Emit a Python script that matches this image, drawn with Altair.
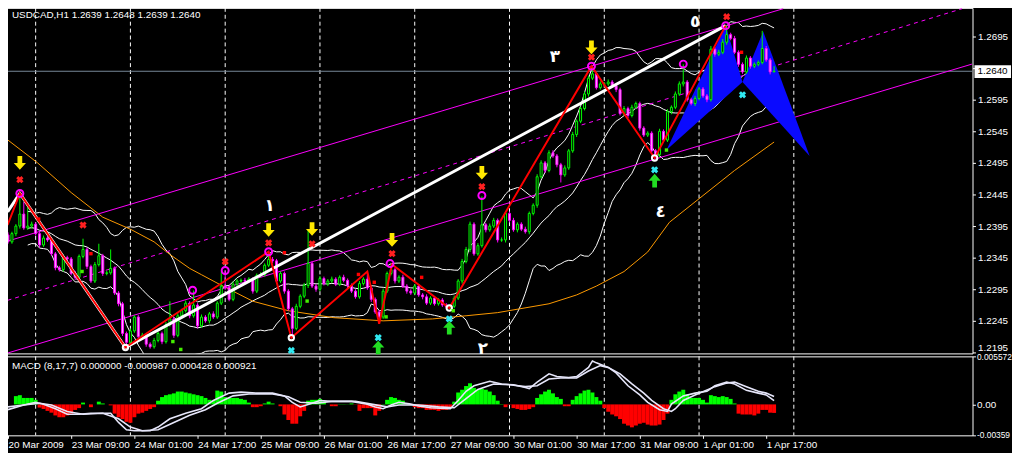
import altair as alt
import pandas as pd

FONT = "Liberation Sans"

# ---------------- data ----------------
# hourly closes, USDCAD H1, bar 0 = 20 Mar 2009 17:00
closes = [
    1.2370, 1.2383, 1.2395, 1.2414, 1.2392, 1.2395, 1.2398, 1.2383, 1.2365, 1.2376,
    1.2373, 1.2351, 1.2329, 1.2326, 1.2345, 1.2343, 1.2320, 1.2314, 1.2347, 1.2358,
    1.2331, 1.2308, 1.2334, 1.2348, 1.2320, 1.2321, 1.2328, 1.2289, 1.2272, 1.2225,
    1.2211, 1.2229, 1.2251, 1.2220, 1.2222, 1.2208, 1.2204, 1.2214, 1.2225, 1.2212,
    1.2239, 1.2248, 1.2222, 1.2253, 1.2261, 1.2273, 1.2253, 1.2270, 1.2237, 1.2251,
    1.2245, 1.2256, 1.2251, 1.2273, 1.2300, 1.2298, 1.2279, 1.2303, 1.2308, 1.2309,
    1.2308, 1.2311, 1.2292, 1.2317, 1.2318, 1.2333, 1.2342, 1.2340, 1.2308, 1.2320,
    1.2292, 1.2264, 1.2233, 1.2268, 1.2284, 1.2301, 1.2336, 1.2300, 1.2295, 1.2312,
    1.2304, 1.2308, 1.2311, 1.2303, 1.2314, 1.2309, 1.2301, 1.2292, 1.2283, 1.2304,
    1.2311, 1.2297, 1.2279, 1.2259, 1.2251, 1.2292, 1.2320, 1.2326, 1.2308, 1.2314,
    1.2300, 1.2292, 1.2289, 1.2300, 1.2286, 1.2283, 1.2273, 1.2281, 1.2272, 1.2278,
    1.2270, 1.2267, 1.2268, 1.2281, 1.2308, 1.2339, 1.2358, 1.2398, 1.2351, 1.2364,
    1.2397, 1.2389, 1.2395, 1.2404, 1.2373, 1.2373, 1.2415, 1.2404, 1.2389, 1.2398,
    1.2390, 1.2386, 1.2415, 1.2428, 1.2473, 1.2495, 1.2483, 1.2511, 1.2506, 1.2492,
    1.2476, 1.2487, 1.2514, 1.2540, 1.2561, 1.2581, 1.2604, 1.2629, 1.2636, 1.2614,
    1.2620, 1.2620, 1.2623, 1.2617, 1.2611, 1.2573, 1.2581, 1.2570, 1.2583, 1.2589,
    1.2550, 1.2539, 1.2542, 1.2514, 1.2508, 1.2545, 1.2531, 1.2576, 1.2583, 1.2604,
    1.2620, 1.2623, 1.2595, 1.2589, 1.2597, 1.2612, 1.2601, 1.2595, 1.2675, 1.2667,
    1.2670, 1.2686, 1.2698, 1.2692, 1.2670, 1.2651, 1.2639, 1.2661, 1.2648, 1.2651,
    1.2654, 1.2676, 1.2658, 1.2639, 1.2640,
]
first_open = 1.2381
# upper / lower shadow lengths in pips
wick_up = [
    4, 3, 3, 33, 19, 30, 4, 3, 3, 4,
    3, 4, 3, 3, 5, 3, 3, 4, 3, 17,
    3, 3, 4, 19, 3, 3, 30, 3, 3, 3,
    3, 4, 3, 3, 4, 3, 3, 4, 3, 3,
    4, 28, 3, 4, 3, 4, 3, 23, 3, 4,
    3, 3, 4, 3, 23, 25, 3, 4, 3, 3,
    4, 3, 3, 3, 4, 3, 12, 4, 3, 3,
    3, 3, 3, 4, 3, 4, 53, 3, 3, 4,
    3, 3, 4, 3, 3, 4, 3, 3, 3, 4,
    3, 12, 3, 3, 3, 4, 3, 8, 3, 3,
    4, 3, 3, 3, 3, 3, 4, 3, 3, 3,
    3, 3, 3, 4, 3, 4, 4, 4, 3, 4,
    45, 3, 4, 4, 3, 4, 3, 3, 4, 3,
    3, 4, 3, 3, 4, 4, 3, 4, 4, 3,
    3, 4, 3, 4, 3, 3, 4, 4, 12, 3,
    4, 3, 4, 3, 3, 3, 4, 3, 4, 3,
    3, 3, 3, 3, 3, 4, 3, 4, 3, 4,
    4, 28, 3, 3, 4, 3, 3, 3, 5, 4,
    4, 5, 14, 3, 4, 3, 3, 4, 3, 3,
    3, 28, 4, 3, 8,
]
wick_dn = [
    3, 3, 4, 4, 3, 3, 4, 3, 4, 3,
    3, 3, 4, 3, 3, 4, 3, 4, 3, 3,
    4, 3, 3, 3, 4, 3, 3, 3, 4, 4,
    8, 3, 3, 4, 3, 4, 3, 3, 3, 4,
    3, 3, 4, 3, 3, 3, 4, 3, 4, 3,
    3, 4, 3, 3, 3, 4, 3, 3, 4, 3,
    3, 3, 4, 3, 3, 3, 3, 4, 3, 3,
    4, 3, 15, 3, 3, 3, 4, 3, 4, 3,
    3, 4, 3, 3, 3, 3, 4, 3, 3, 3,
    3, 3, 4, 3, 11, 3, 3, 3, 4, 3,
    3, 4, 3, 3, 3, 4, 3, 3, 3, 3,
    3, 3, 4, 3, 3, 4, 3, 4, 3, 3,
    3, 4, 3, 3, 4, 3, 4, 3, 3, 4,
    3, 3, 4, 3, 4, 3, 4, 3, 3, 4,
    12, 3, 3, 3, 4, 3, 3, 4, 3, 3,
    3, 4, 3, 3, 4, 3, 3, 4, 3, 3,
    4, 3, 3, 3, 5, 4, 3, 3, 4, 3,
    3, 4, 3, 3, 4, 3, 3, 4, 3, 4,
    3, 3, 4, 3, 3, 4, 3, 3, 4, 3,
    3, 3, 3, 4, 0,
]

price_ticks = [1.2195, 1.2245, 1.2295, 1.2345, 1.2395, 1.2445, 1.2495, 1.2545, 1.2595, 1.2645, 1.2695]
current_price = 1.2640
current_label = "1.2640"
time_tick_bars = [0, 16, 32, 48, 64, 80, 96, 112, 128, 144, 160, 176, 192]
time_tick_labels = ["20 Mar 2009", "23 Mar 09:00", "24 Mar 01:00", "24 Mar 17:00", "25 Mar 09:00",
                    "26 Mar 01:00", "26 Mar 17:00", "27 Mar 09:00", "30 Mar 01:00", "30 Mar 17:00",
                    "31 Mar 09:00", "1 Apr 01:00", "1 Apr 17:00"]
day_grid_bars = [7, 31, 55, 79, 103, 127, 151, 175, 199]
title_text = "USDCAD,H1  1.2639 1.2648 1.2639 1.2640"
macd_text = "MACD  (8,17,7) 0.000000 -0.000987 0.000428 0.000921"

# slow moving average (orange)
orange_i = [0, 7.5, 16, 24, 31, 37, 41, 46, 49, 53.5, 62, 71, 82.5, 95, 107.5, 116, 124, 137, 144, 149,
            156, 162, 167.5, 184, 194]
orange_p = [1.2531, 1.2495, 1.2448, 1.2409, 1.2390, 1.2370, 1.2350, 1.2328, 1.2318, 1.2303, 1.2276, 1.2261,
            1.2250, 1.2245, 1.2248, 1.2253, 1.2258, 1.2272, 1.2286, 1.2300, 1.2323, 1.2354, 1.2401, 1.2483, 1.2528]

# zigzag (red) and trend (thick white)
zig_i = [-0.1, 3, 29.75, 66, 71.75, 91, 94, 97.25, 111.75, 147.75, 163.75, 181.75]
zig_p = [1.23967, 1.24466, 1.22028, 1.23544, 1.22184, 1.23231, 1.22403, 1.23341, 1.22653, 1.26481, 1.25028, 1.27122]
trend_i = [-0.1, 3, 29.75, 181.75]
trend_p = [1.24175, 1.24466, 1.22028, 1.27122]

# magenta channel lines
chanA_i = [-0.1, 196.3]
chanA_p = [1.23712, 1.27390]
chanB_i = [-0.1, 244.1]
chanB_p = [1.21940, 1.26513]
chanD_i = [-0.1, 241.6]
chanD_p = [1.22775, 1.27390]

# markers
circle_i = [3, 46.75, 55, 66, 96.75, 120, 147.75, 171, 181.75]
circle_p = [1.24466, 1.22934, 1.23247, 1.23544, 1.23356, 1.24434, 1.26481, 1.26513, 1.27122]
ring_i = [29.75, 71.75, 111.75, 163.75]
ring_p = [1.22028, 1.22184, 1.22653, 1.25028]
yarrow_i = [3, 66, 77, 97.25, 120, 147.75]
yarrow_p = [1.2495, 1.23888, 1.23903, 1.23731, 1.24794, 1.26778]
garrow_i = [93.75, 111.75, 163.75]
garrow_p = [1.22028, 1.22341, 1.24669]
rstar_i = [3, 19, 55, 66, 77, 97.25, 120, 147.75, 182]
rstar_p = [1.24684, 1.23966, 1.23388, 1.23684, 1.23669, 1.23513, 1.24575, 1.26622, 1.27263]
cstar_i = [71.75, 93.75, 111.75, 163.75, 186]
cstar_p = [1.21981, 1.22184, 1.22481, 1.24841, 1.26028]
rsq_i = [7.75, 21, 70, 88.75, 92.75, 104.75, 185.75]
rsq_p = [1.2406, 1.23513, 1.23528, 1.23184, 1.2306, 1.23138, 1.267]
gsq_i = [18.75, 41.75, 43.75, 75.75, 95.75, 112.75, 166.75]
gsq_p = [1.23231, 1.22122, 1.21997, 1.22763, 1.22513, 1.2261, 1.25153]
wave_labels = ["١", "٢", "٣", "٤", "٥"]
wave_i = [66.25, 120.25, 138.5, 165.25, 174]
wave_p = [1.24263, 1.2200, 1.26622, 1.2417, 1.27184]

# harmonic pattern (blue triangles): x, top edge, bottom edge
tri1_i = [166.75, 181.75, 186]
tri1_top = [1.25153, 1.27122, 1.26231]
tri1_bot = [1.25153, 1.25992, 1.26231]
tri2_i = [186, 191.25, 203]
tri2_top = [1.26231, 1.27028, 1.25059]
tri2_bot = [1.26231, 1.25869, 1.25059]

# MACD (8,17,7), values in units of 1e-4
hist_vals = [
    0, 0, 9.6, 10.7, 7.5, 7.5, 7.5, 5.3, -3.7, -5.3,
    -7.5, -9.6, -12.8, -14.9, -14.9, -12.8, -10.7, -6.4, -4.3, 2.1,
    0, -3.2, 0, 3.2, 1.1, 0, -1.1, -10.7, -14.9, -17.0,
    -20.2, -21.3, -14.9, -10.7, -9.6, -7.5, -5.3, -3.2, 4.3, 8.5,
    10.7, 11.7, 12.8, 14.9, 14.9, 13.8, 12.8, 11.7, 10.7, 9.6,
    7.5, 5.3, 4.3, 16.0, 14.9, 8.5, 7.5, 7.5, 7.5, 6.4,
    5.3, 2.1, -3.2, -3.2, -2.1, 1.1, 3.2, 1.1, 0, -2.1,
    -11.7, -18.1, -22.4, -22.4, -13.8, -7.5, 4.3, 5.3, 5.3, 6.4,
    3.2, 0, -2.1, -2.1, 0.3, 0.3, 0.2, 1.1, -0.3, -7.5,
    -4.3, -4.3, -4.3, -12.8, -7.5, 0.4, 5.3, 8.5, 7.5, 5.3,
    4.3, 0.3, -0.3, -3.2, -4.3, -4.3, -6.4, -6.4, -6.4, -7.5,
    -6.4, -6.4, -4.3, 3.2, 13.8, 17.0, 21.3, 24.5, 19.2, 17.0,
    18.1, 17.0, 14.9, 10.7, 4.3, 0.4, -3.2, -0.4, -4.3, -5.3,
    -6.4, -6.4, -5.3, -3.2, 7.5, 11.7, 14.9, 17.0, 12.8, 8.5,
    6.4, -2.1, -2.1, 5.3, 9.6, 12.8, 16.0, 17.0, 13.8, 8.5,
    4.3, -4.3, -8.5, -11.7, -13.8, -17.0, -22.4, -24.5, -26.6, -24.5,
    -22.4, -21.3, -23.4, -24.5, -24.5, -23.4, -18.1, -10.7, 5.3, 11.7,
    14.9, 17.0, 11.7, 7.5, 7.5, 7.5, 5.3, 2.1, 10.7, 9.6,
    8.5, 9.6, 8.5, 6.4, 1.1, -10.7, -11.7, -11.7, -11.7, -12.8,
    -10.7, -6.4, -6.4, -9.6, -9.87,
]
macd_i = [0, 4, 7, 9, 12, 15, 18, 21, 26, 28, 30, 32, 36, 38, 41, 45, 49, 52, 56, 59,
          63, 67, 70, 72, 74, 77, 79, 82, 87, 91, 93, 95, 97, 99, 102, 104, 107, 112, 114, 116,
          118, 122, 125, 128, 131, 132, 134, 137, 139, 142, 144, 147, 148, 149, 152, 154, 157, 160, 162, 165,
          167, 168, 171, 174, 177, 179, 182, 184, 187, 190, 192, 194]
macd_v = [-6.1, -0.7, 2.4, 0.3, -5.0, -11.4, -11.4, -10.3, -10.3, -20.9, -29.5, -30.6, -30.6, -26.3, -16.7,
          -10.3, -5.0, 4.6, 13.1, 14.2, 13.1, 13.1, 9.9, 2.4, -2.9, 1.4, 4.6, 3.5, 3.5, 0.3,
          -2.9, -5.0, -0.7, 2.4, 0.3, -1.8, -3.9, -5.0, 4.6, 15.2, 21.6, 26.9, 23.7, 22.7, 19.5,
          18.4, 25.9, 35.5, 32.3, 31.2, 32.3, 42.9, 50.4, 48.2, 42.9, 36.5, 21.6, 11.0, 2.4, -6.1,
          -8.2, 0.3, 9.9, 13.1, 15.2, 21.6, 25.9, 23.7, 16.3, 13.1, 11.0, 4.28]
sig_i = [0, 4, 8, 11, 15, 19, 24, 28, 31, 34, 38, 42, 46, 50, 53, 57, 61, 67, 71, 74,
         78, 82, 88, 92, 96, 99, 104, 109, 113, 116, 119, 123, 127, 131, 134, 137, 140, 144, 147, 150,
         152, 155, 158, 161, 163, 166, 168, 169, 171, 174, 179, 182, 184, 187, 190, 192, 194]
sig_v = [-2.9, -0.7, 1.4, -0.7, -8.2, -11.4, -10.3, -16.7, -26.3, -30.6, -29.5, -20.9, -12.5, -6.1, 1.4,
         9.9, 12.0, 12.0, 8.8, 2.4, 1.4, 3.5, 3.5, 0.3, -2.9, -0.7, -0.7, -2.9, -3.9, 6.7,
         17.4, 23.7, 22.7, 20.6, 21.6, 29.5, 30.6, 30.6, 38.7, 45.0, 42.9, 35.5, 23.7, 13.1, 4.6,
         -5.0, -8.2, -5.0, 4.6, 11.0, 20.6, 24.7, 25.9, 20.6, 15.2, 13.1, 9.21]
macd_ticks = [0.005572, 0.0, -0.00359]
macd_tick_labels = ["0.005572", "0.00", "-0.00359"]

# ---------------- tables ----------------
rows = []
prev = first_open
for k, (c, u, d) in enumerate(zip(closes, wick_up, wick_dn)):
    o = prev
    rows.append(dict(i=k, o=o, c=c, h=round(max(o, c) + u * 1e-4, 5), l=round(min(o, c) - d * 1e-4, 5),
                     x1=k - 0.25, x2=k + 0.25, bull=bool(c >= o)))
    prev = c
cdf = pd.DataFrame(rows)


def pts(ii, pp):
    return pd.DataFrame({"i": ii, "p": pp})


xs = alt.Scale(domain=[-0.5, 244.25], nice=False, zero=False)
ys = alt.Scale(domain=[1.219344, 1.274031], nice=False, zero=False)
ym = alt.Scale(domain=[-0.00359, 0.005572], nice=False, zero=False)


def X(f):
    return alt.X(f, type="quantitative", scale=xs, axis=None)


def Y(f):
    return alt.Y(f, type="quantitative", scale=ys, axis=None)


y_axis_main = alt.Axis(orient="right", values=price_ticks, format=".4f", title=None, tickSize=3,
                       labelPadding=2, domain=False, grid=False, labelFlush=3, labelOverlap=False)
x_labels_js = "[" + ",".join("'%s'" % s for s in time_tick_labels) + "]"
x_vals_js = "[" + ",".join(repr(v) for v in time_tick_bars) + "]"
x_axis_macd = alt.Axis(orient="bottom", values=time_tick_bars, title=None, tickSize=3, labelAlign="left",
                       labelPadding=1, labelBaseline="top", domain=False, grid=False, labelOverlap=False,
                       labelFlush=False,
                       labelExpr=x_labels_js + "[indexof(" + x_vals_js + ", datum.value)]")
m_labels_js = "[" + ",".join("'%s'" % s for s in macd_tick_labels) + "]"
m_vals_js = "[" + ",".join(repr(v) for v in macd_ticks) + "]"
y_axis_macd = alt.Axis(orient="right", values=macd_ticks, title=None, tickSize=3, labelPadding=1,
                       domain=False, grid=False, labelFlush=True, labelFlushOffset=4, labelOverlap=False,
                       labelFontSize={"condition": {"test": "datum.value == 0", "value": 10}, "value": 8.5},
                       labelExpr=m_labels_js + "[indexof(" + m_vals_js + ", datum.value)]")

# ---------------- main price panel ----------------
grid = alt.Chart(pd.DataFrame({"i": day_grid_bars})).mark_rule(
    color="white", strokeDash=[4, 3], strokeWidth=1).encode(x=X("i"))

cur_line = alt.Chart(pd.DataFrame({"p": [current_price]})).mark_rule(
    color="#778899", strokeWidth=1).encode(y=Y("p"))

bands = alt.Chart(cdf).transform_window(
    mid="mean(c)", sd="stdevp(c)", frame=[-19, 0], sort=[alt.SortField("i")]
).transform_calculate(
    upper="datum.mid + 2*datum.sd", lower="datum.mid - 2*datum.sd"
).transform_filter("datum.i >= 5").transform_fold(
    ["mid", "upper", "lower"], as_=["band", "val"]
).mark_line(color="white", strokeWidth=1, clip=True).encode(x=X("i"), y=Y("val"), detail="band:N")

orange = alt.Chart(pts(orange_i, orange_p)).mark_line(color="#FF9A00", strokeWidth=1).encode(
    x=X("i"), y=Y("p"))

chan_solid = alt.Chart(pd.concat([pts(chanA_i, chanA_p).assign(k="A"), pts(chanB_i, chanB_p).assign(k="B")])
                       ).mark_line(color="#FF00FF", strokeWidth=1, clip=True).encode(
    x=X("i"), y=Y("p"), detail="k:N")
chan_dash = alt.Chart(pts(chanD_i, chanD_p)).mark_line(
    color="#FF00FF", strokeWidth=1, strokeDash=[4, 4]).encode(x=X("i"), y=Y("p"))

tri_df = pd.concat([
    pd.DataFrame({"i": tri1_i, "top": tri1_top, "bot": tri1_bot, "t": "a"}),
    pd.DataFrame({"i": tri2_i, "top": tri2_top, "bot": tri2_bot, "t": "b"}),
])
tris = alt.Chart(tri_df).mark_area(color="#0A0AFF", opacity=1, interpolate="linear").encode(
    x=X("i"), y=Y("top"), y2="bot:Q", detail="t:N")

wicks = alt.Chart(cdf).mark_rule(strokeWidth=1).encode(
    x=X("i"),
    y=alt.Y("l:Q", scale=ys, axis=y_axis_main),
    y2="h:Q",
    color=alt.condition("datum.bull", alt.value("#00FF00"), alt.value("#FF00FF")),
)
bodies = alt.Chart(cdf).mark_rect(strokeWidth=1).encode(
    x=X("x1"), x2="x2:Q", y=Y("o"), y2="c:Q",
    fill=alt.condition("datum.bull", alt.value("#000000"), alt.value("#FFB0FF")),
    stroke=alt.condition("datum.bull", alt.value("#00FF00"), alt.value("#FF00FF")),
)

trend = alt.Chart(pts(trend_i, trend_p)).mark_line(color="white", strokeWidth=3).encode(
    x=X("i"), y=Y("p"))
zig = alt.Chart(pts(zig_i, zig_p)).mark_line(color="#FF0000", strokeWidth=2).encode(
    x=X("i"), y=Y("p"))

circles = alt.Chart(pts(circle_i, circle_p)).mark_point(
    shape="circle", filled=False, color="#FF00FF", strokeWidth=2, size=50, opacity=1).encode(
    x=X("i"), y=Y("p"))
rings = alt.Chart(pts(ring_i, ring_p)).mark_point(
    shape="circle", filled=False, color="white", strokeWidth=2, size=30, opacity=1).encode(
    x=X("i"), y=Y("p"))
rsq = alt.Chart(pts(rsq_i, rsq_p)).mark_square(color="#FF0000", size=12, opacity=1).encode(
    x=X("i"), y=Y("p"))
gsq = alt.Chart(pts(gsq_i, gsq_p)).mark_square(color="#44EE00", size=12, opacity=1).encode(
    x=X("i"), y=Y("p"))
rstars = alt.Chart(pts(rstar_i, rstar_p)).mark_point(
    shape="cross", angle=45, filled=True, color="#FF2020", size=55, opacity=1).encode(
    x=X("i"), y=Y("p"))
cstars = alt.Chart(pts(cstar_i, cstar_p)).mark_point(
    shape="cross", angle=45, filled=True, color="#30E8F0", size=55, opacity=1).encode(
    x=X("i"), y=Y("p"))
DOWN = "M-0.35,-1L0.35,-1L0.35,0L0.9,0L0,1L-0.9,0L-0.35,0Z"
UP = "M-0.35,1L0.35,1L0.35,0L0.9,0L0,-1L-0.9,0L-0.35,0Z"
yarrows = alt.Chart(pts(yarrow_i, yarrow_p)).mark_point(
    shape=DOWN, filled=True, color="#FFE800", size=190, opacity=1).encode(x=X("i"), y=Y("p"))
garrows = alt.Chart(pts(garrow_i, garrow_p)).mark_point(
    shape=UP, filled=True, color="#22DD22", size=190, opacity=1).encode(x=X("i"), y=Y("p"))
waves = alt.Chart(pd.DataFrame({"i": wave_i, "p": wave_p, "t": wave_labels})).mark_text(
    color="white", font="DejaVu Sans", fontSize=17, fontWeight="bold").encode(
    x=X("i"), y=Y("p"), text="t:N")

title = alt.Chart(pd.DataFrame({"t": [title_text]})).mark_text(
    align="left", baseline="middle", color="white", font=FONT, fontSize=10).encode(
    x=alt.value(6), y=alt.value(7), text="t:N")

pbox = alt.Chart(pd.DataFrame({"a": [244.75], "b": [254.0], "p1": [1.26294], "p2": [1.26497]})).mark_rect(
    color="white").encode(x=X("a"), x2="b:Q", y=Y("p1"), y2="p2:Q")
ptext = alt.Chart(pd.DataFrame({"i": [245.5], "p": [current_price], "t": [current_label]})).mark_text(
    align="left", baseline="middle", color="black", font=FONT, fontSize=10).encode(x=X("i"), y=Y("p"), text="t:N")

main = alt.layer(
    grid, cur_line, bands, orange, chan_solid, chan_dash, tris, wicks, bodies, trend, zig,
    circles, rings, rsq, gsq, rstars, cstars, yarrows, garrows, waves, title, pbox, ptext,
).resolve_axis(x="independent", y="independent").properties(width=979, height=350)

# ---------------- MACD panel ----------------
hdf = pd.DataFrame({"i": list(range(len(hist_vals))), "v": [v * 1e-4 for v in hist_vals]})
hdf["x1"] = hdf["i"] - 0.5
hdf["x2"] = hdf["i"] + 0.5
hdf["zero"] = 0.0
hist = alt.Chart(hdf).mark_rect().encode(
    x=alt.X("x1:Q", scale=xs, axis=x_axis_macd),
    x2="x2:Q",
    y=alt.Y("zero:Q", scale=ym, axis=y_axis_macd),
    y2="v:Q",
    color=alt.condition("datum.v >= 0", alt.value("#00FF00"), alt.value("#FF0000")),
)
ldf = pd.concat([
    pd.DataFrame({"i": macd_i, "v": [v * 1e-4 for v in macd_v], "k": "main"}),
    pd.DataFrame({"i": sig_i, "v": [v * 1e-4 for v in sig_v], "k": "signal"}),
])
mlines = alt.Chart(ldf).mark_line(color="#E6E6FA", strokeWidth=1.6).encode(
    x=X("i"), y=alt.Y("v:Q", scale=ym, axis=None), detail="k:N")
mtitle = alt.Chart(pd.DataFrame({"t": [macd_text]})).mark_text(
    align="left", baseline="middle", color="white", font=FONT, fontSize=10).encode(
    x=alt.value(6), y=alt.value(10), text="t:N")

macd = alt.layer(grid, hist, mlines, mtitle).resolve_axis(
    x="independent", y="independent").properties(width=979, height=80)

chart = alt.vconcat(main, macd, spacing=3, bounds="flush").properties(
    background="black",
    padding={"left": -7, "top": -5, "right": 0, "bottom": 0},
).configure_view(stroke="white", strokeWidth=1).configure_axis(
    labelFont=FONT, labelFontSize=10, labelColor="white", tickColor="white"
)

chart.save("out.html", embed_options={"renderer": "svg", "actions": False})
